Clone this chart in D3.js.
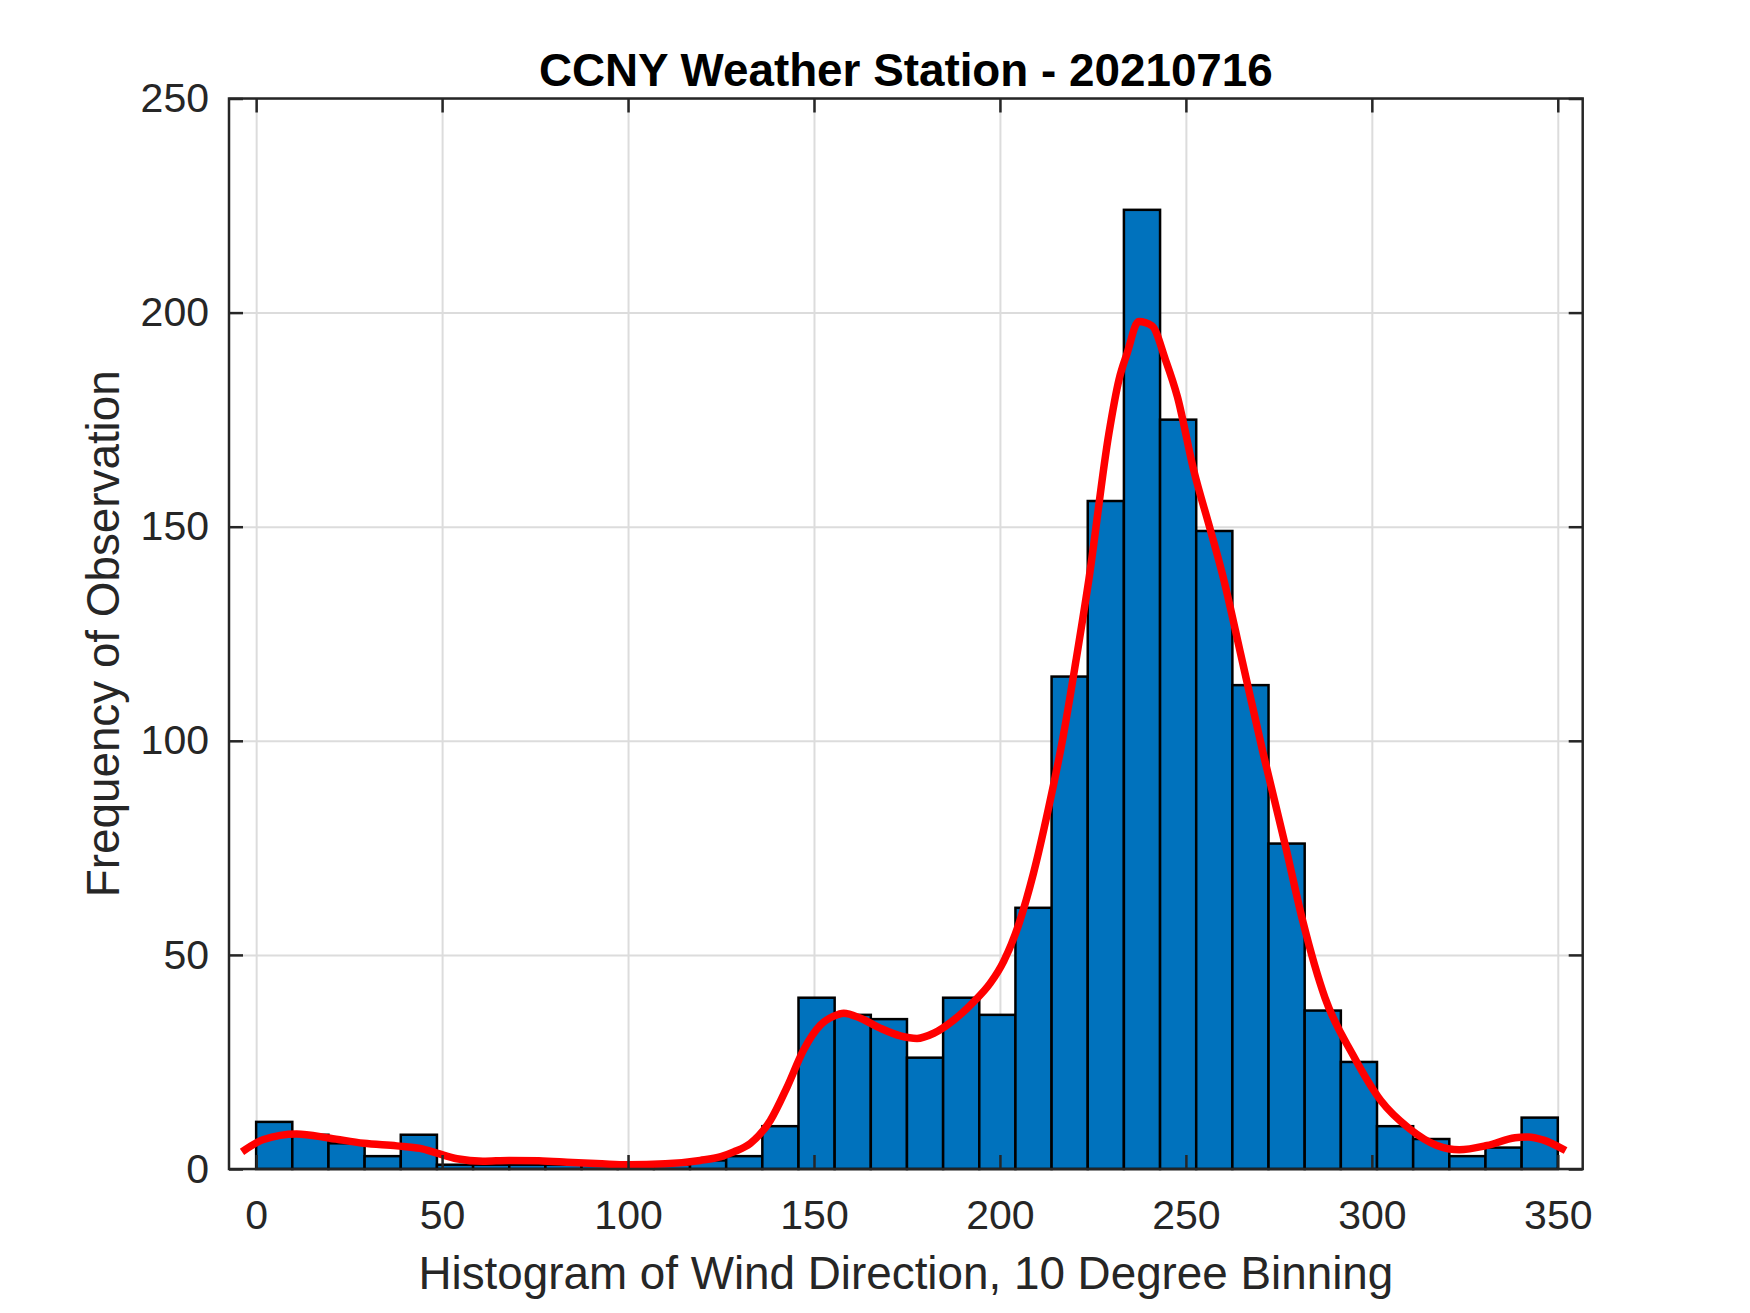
<!DOCTYPE html>
<html lang="en">

<head>
    <meta charset="UTF-8">
    <title>CCNY Weather Station - 20210716</title>
    <script src="https://cdnjs.cloudflare.com/ajax/libs/d3/7.9.0/d3.min.js"></script>
    <style>
        body {
            margin: 0;
            background-color: white;
        }

        svg {
            display: block;
            font-family: "Liberation Sans", Arial, Helvetica, sans-serif;
        }
    </style>
</head>

<body>
    <script>
        // histogram counts, 36 equal bins between 0 and 350 degrees
        const binRange = [0, 350];
        const binCounts = [11, 8, 6, 3, 8, 1, 1, 1, 1, 1, 1, 1, 2, 3, 10, 40, 36, 35,
            26, 40, 36, 61, 115, 156, 224, 175, 149, 113, 76, 37, 25, 10, 7, 3, 5, 12];

        // red density fit
        const fitX = [-3.8, 2, 10.9, 19.9, 28.9, 37.8, 44.1, 48.6, 54, 61, 68, 76, 85, 93, 100,
            110, 119.4, 125, 128.4, 132.9, 138.3, 142.8, 147.2, 151.7, 155.3, 158, 162.5,
            167.8, 173.2, 177.7, 182.2, 187.6, 193, 197.4, 201, 205, 209, 213, 217, 220.5,
            223.9, 229.3, 232, 234.2, 237.3, 240.9, 244.5, 247.7, 252.1, 256.6, 260.2,
            264.8, 270.8, 276.9, 281.4, 287.4, 295, 302.4, 310, 317.5, 323.5, 331, 338.5,
            342.2, 346, 352.1];
        const fitY = [4.0, 6.9, 8.2, 7.2, 6.0, 5.4, 4.8, 3.7, 2.4, 1.8, 2.0, 1.9, 1.5, 1.2, 1.0,
            1.2, 2.0, 2.9, 4.0, 6.0, 11.4, 19.2, 27.8, 33.6, 35.7, 36.4, 35.2,
            32.9, 31.1, 30.5, 31.7, 34.8, 39.1, 43.4, 48.5, 57, 69, 84, 101, 119,
            137.6, 171.8, 184.3, 190.5, 197.9, 196.9, 189, 180.4, 163.2, 149.2, 137.6,
            120, 97, 75, 58, 40, 26.5, 16, 9.5, 5.5, 4.5, 5.5, 7.3,
            7.5, 6.8, 4.3];

        const xTicks = [0, 50, 100, 150, 200, 250, 300, 350];
        const yTicks = [0, 50, 100, 150, 200, 250];

        const titleText = "CCNY Weather Station - 20210716";
        const xLabelText = "Histogram of Wind Direction, 10 Degree Binning";
        const yLabelText = "Frequency of Observation";

        const width = 1750;
        const height = 1313;
        const margin = { top: 98.5, right: 167.3, bottom: 144, left: 229 };
        const innerW = width - margin.left - margin.right;
        const innerH = height - margin.top - margin.bottom;
        const axisColor = "#262626";
        const tickLen = 14;

        const svg = d3.select("body").append("svg")
            .attr("width", width)
            .attr("height", height);

        svg.append("rect")
            .attr("width", width)
            .attr("height", height)
            .attr("fill", "white");

        const x = d3.scaleLinear()
            .domain([-7.3, 356.7])
            .range([margin.left, width - margin.right]);

        const y = d3.scaleLinear()
            .domain([0, 250])
            .range([height - margin.bottom, margin.top]);

        // grid
        svg.append("g")
            .attr("transform", `translate(0, ${height - margin.bottom})`)
            .call(d3.axisBottom(x).tickValues(xTicks).tickSize(-innerH).tickFormat(""))
            .call(g => g.select(".domain").remove())
            .call(g => g.selectAll("line").attr("stroke", "#dcdcdc").attr("stroke-width", 2));

        svg.append("g")
            .attr("transform", `translate(${margin.left}, 0)`)
            .call(d3.axisLeft(y).tickValues(yTicks).tickSize(-innerW).tickFormat(""))
            .call(g => g.select(".domain").remove())
            .call(g => g.selectAll("line").attr("stroke", "#dcdcdc").attr("stroke-width", 2));

        // bars
        const binW = (binRange[1] - binRange[0]) / binCounts.length;
        svg.append("g")
            .selectAll("rect")
            .data(binCounts)
            .enter()
            .append("rect")
            .attr("x", (d, i) => x(binRange[0] + i * binW))
            .attr("y", d => y(d))
            .attr("width", (d, i) => x(binRange[0] + (i + 1) * binW) - x(binRange[0] + i * binW))
            .attr("height", d => y(0) - y(d))
            .attr("fill", "#0072BD")
            .attr("stroke", "black")
            .attr("stroke-width", 2.5);

        // fit curve
        const line = d3.line()
            .x(d => x(d[0]))
            .y(d => y(d[1]))
            .curve(d3.curveMonotoneX);

        svg.append("path")
            .datum(d3.zip(fitX, fitY))
            .attr("d", line)
            .attr("fill", "none")
            .attr("stroke", "#ff0000")
            .attr("stroke-width", 7.5)
            .attr("stroke-linejoin", "round");

        // box
        svg.append("rect")
            .attr("x", margin.left)
            .attr("y", margin.top)
            .attr("width", innerW)
            .attr("height", innerH)
            .attr("fill", "none")
            .attr("stroke", axisColor)
            .attr("stroke-width", 2.5);

        const styleAxis = g => {
            g.select(".domain").remove();
            g.selectAll("line").attr("stroke", axisColor).attr("stroke-width", 2.5);
            g.selectAll("text").attr("fill", axisColor).style("font-size", "41px")
                .style("font-family", '"Liberation Sans", Arial, Helvetica, sans-serif');
        };

        svg.append("g")
            .attr("transform", `translate(0, ${height - margin.bottom})`)
            .call(d3.axisBottom(x).tickValues(xTicks).tickSizeInner(-tickLen).tickSizeOuter(0).tickPadding(31))
            .call(styleAxis);

        svg.append("g")
            .attr("transform", `translate(0, ${margin.top})`)
            .call(d3.axisTop(x).tickValues(xTicks).tickSizeInner(-tickLen).tickSizeOuter(0).tickFormat(""))
            .call(styleAxis);

        svg.append("g")
            .attr("transform", `translate(${margin.left}, 0)`)
            .call(d3.axisLeft(y).tickValues(yTicks).tickSizeInner(-tickLen).tickSizeOuter(0).tickPadding(20))
            .call(styleAxis);

        svg.append("g")
            .attr("transform", `translate(${width - margin.right}, 0)`)
            .call(d3.axisRight(y).tickValues(yTicks).tickSizeInner(-tickLen).tickSizeOuter(0).tickFormat(""))
            .call(styleAxis);

        // labels
        svg.append("text")
            .attr("x", margin.left + innerW / 2)
            .attr("y", 86)
            .attr("text-anchor", "middle")
            .attr("font-size", 45.8)
            .attr("font-weight", "bold")
            .attr("fill", "black")
            .text(titleText);

        svg.append("text")
            .attr("x", margin.left + innerW / 2)
            .attr("y", 1289)
            .attr("text-anchor", "middle")
            .attr("font-size", 45.8)
            .attr("fill", axisColor)
            .text(xLabelText);

        svg.append("text")
            .attr("transform", `translate(119, ${margin.top + innerH / 2}) rotate(-90)`)
            .attr("text-anchor", "middle")
            .attr("font-size", 45.8)
            .attr("fill", axisColor)
            .text(yLabelText);
    </script>
</body>

</html>
